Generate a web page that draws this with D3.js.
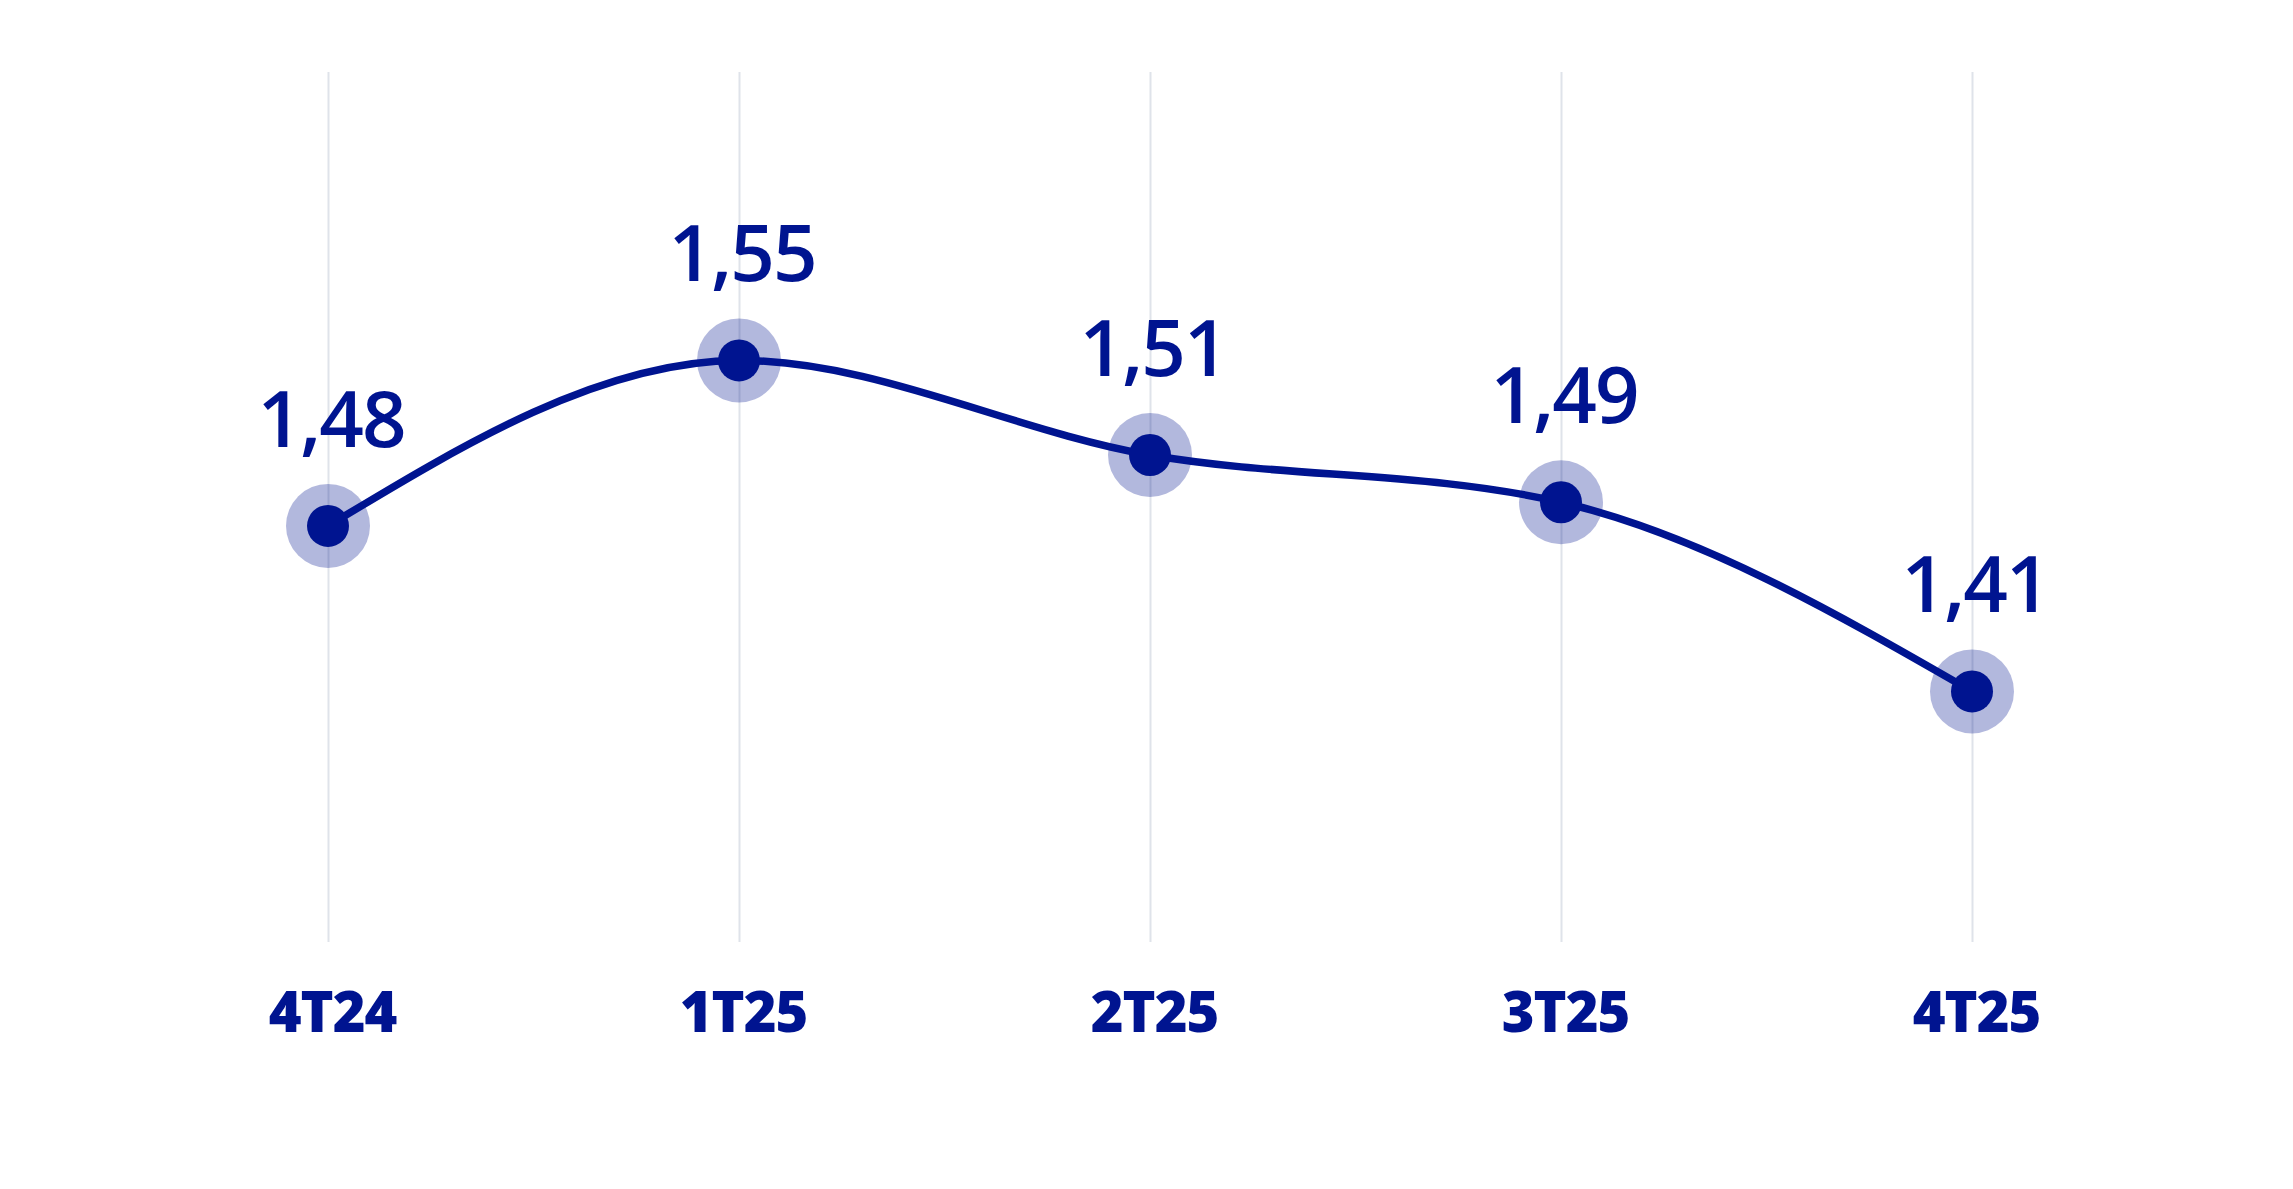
<!DOCTYPE html>
<html>
<head>
<meta charset="utf-8">
<script src="https://cdn.jsdelivr.net/npm/d3@7"></script>
<style>
  html, body { margin: 0; padding: 0; background: #ffffff; }
  svg { display: block; }
</style>
</head>
<body>
<svg id="chart" width="2293" height="1189"></svg>
<script>
const categories = ["4T24", "1T25", "2T25", "3T25", "4T25"];
const values = [1.48, 1.55, 1.51, 1.49, 1.41];

const W = 2293, H = 1189;
const mainColor = "#001490";
const gridColor = "#dfe3ea";

const svg = d3.select("#chart");
svg.append("rect").attr("width", W).attr("height", H).attr("fill", "#ffffff");

const x = d3.scalePoint().domain(categories).range([328, 1972]);
const y = d3.scaleLinear().domain([1.304, 1.672]).range([942, 72]);

const locale = d3.formatLocale({ decimal: ",", thousands: ".", grouping: [3], currency: ["", "€"] });
const fmt = locale.format(".2f");

// Axis with gridlines
const axis = d3.axisBottom(x).tickSize(-(942 - 72)).tickPadding(0);
const gAxis = svg.append("g").attr("transform", "translate(0,942)").call(axis);
gAxis.select(".domain").remove();
gAxis.selectAll(".tick line").attr("stroke", gridColor).attr("stroke-width", 2);
gAxis.selectAll(".tick text")
  .attr("y", 90).attr("dy", null).attr("x", 4)
  .attr("fill", mainColor)
  .style("font-family", "'Open Sans', sans-serif")
  .style("font-weight", 800)
  .style("font-size", "56px")
  .style("letter-spacing", "-1px");

const data = categories.map((c, i) => ({ c, v: values[i] }));

// halos
svg.append("g").selectAll("circle").data(data).join("circle")
  .attr("cx", d => x(d.c)).attr("cy", d => y(d.v))
  .attr("r", 42).attr("fill", mainColor).attr("fill-opacity", 0.3);

// line
const line = d3.line().x(d => x(d.c)).y(d => y(d.v)).curve(d3.curveMonotoneX);
svg.append("path").datum(data)
  .attr("d", line).attr("fill", "none")
  .attr("stroke", mainColor).attr("stroke-width", 7.5)
  .attr("stroke-linejoin", "round").attr("stroke-linecap", "round");

// dots
svg.append("g").selectAll("circle").data(data).join("circle")
  .attr("cx", d => x(d.c)).attr("cy", d => y(d.v))
  .attr("r", 21).attr("fill", mainColor);

// value labels
svg.append("g").selectAll("text").data(data).join("text")
  .attr("x", d => x(d.c) + 3).attr("y", d => y(d.v) - 79)
  .attr("text-anchor", "middle")
  .attr("fill", mainColor)
  .style("font-family", "'Open Sans', sans-serif")
  .style("font-weight", 600)
  .style("font-size", "78px")
  .style("letter-spacing", "-2px")
  .text(d => fmt(d.v));
</script>
</body>
</html>
